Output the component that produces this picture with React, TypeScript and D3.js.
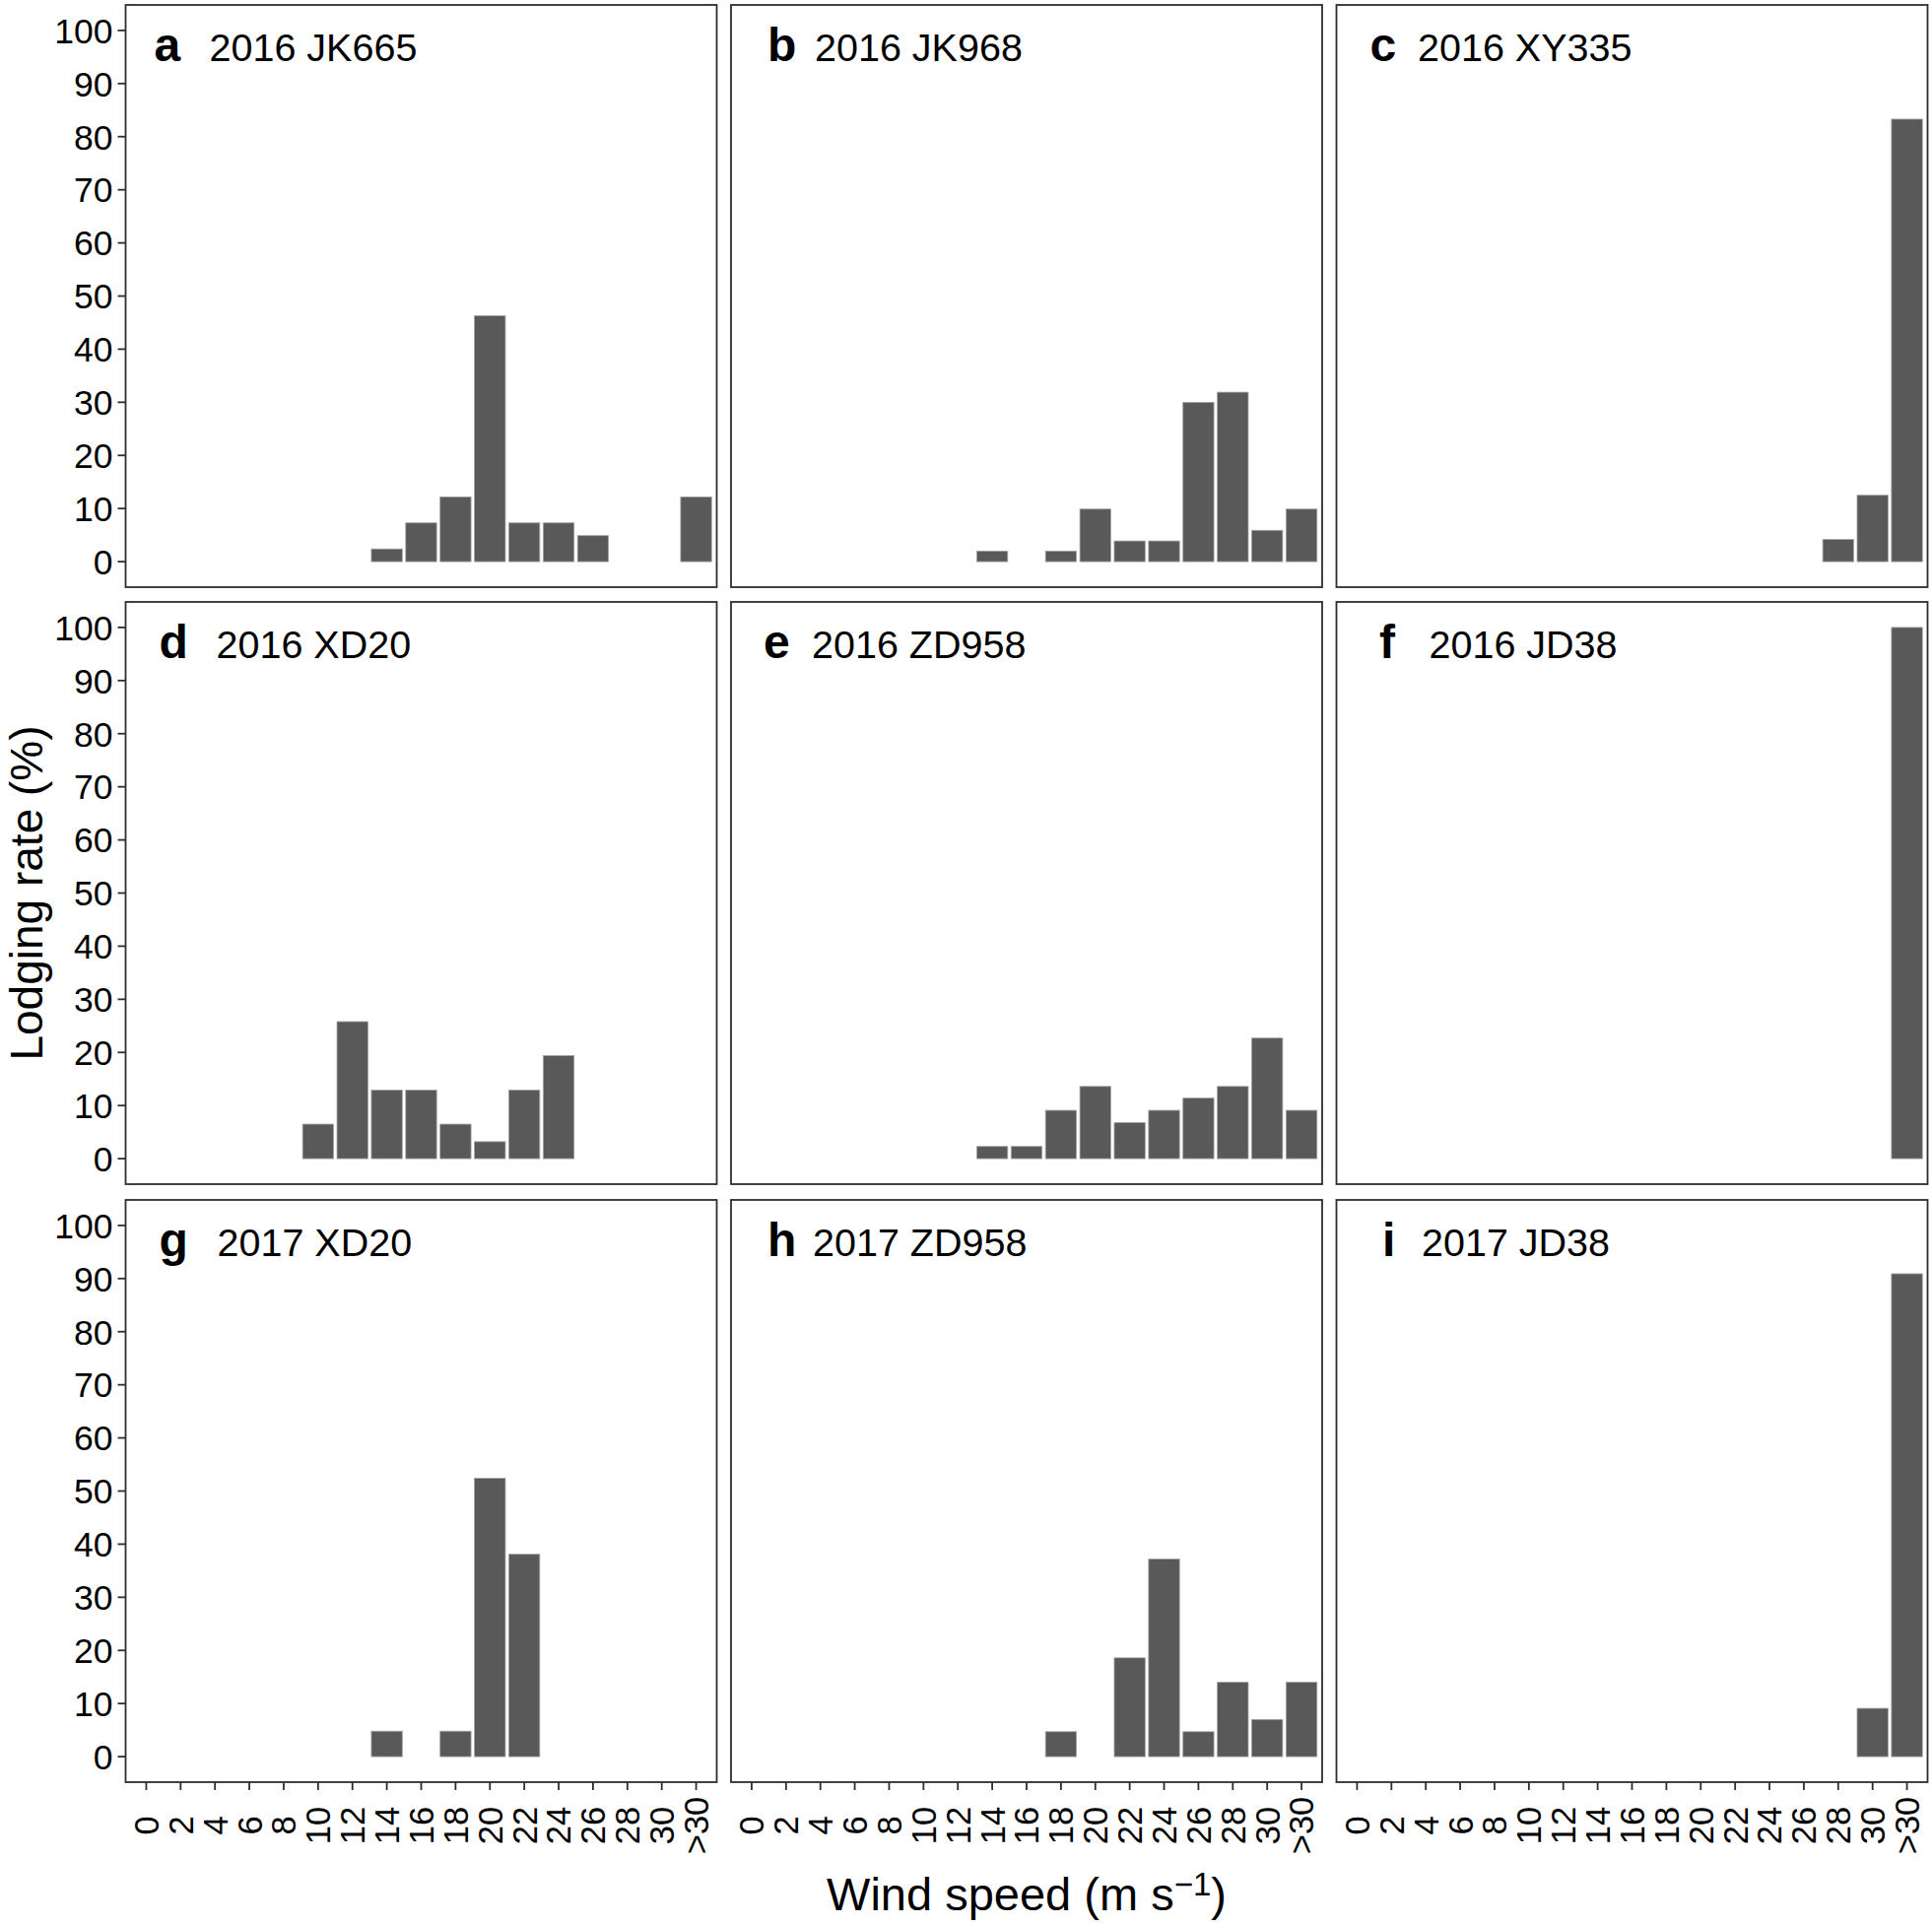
import React from "react";
import * as d3 from "d3";

const categories = ["0","2","4","6","8","10","12","14","16","18","20","22","24","26","28","30",">30"];
const yTicks = [0, 10, 20, 30, 40, 50, 60, 70, 80, 90, 100];

const panelLetters = ["a","b","c","d","e","f","g","h","i"];
const panelTitles = ["2016 JK665","2016 JK968","2016 XY335","2016 XD20","2016 ZD958","2016 JD38","2017 XD20","2017 ZD958","2017 JD38"];

const valuesA = [0,0,0,0,0,0,0,2.4,7.3,12.2,46.3,7.3,7.3,4.9,0,0,12.2];
const valuesB = [0,0,0,0,0,0,0,2.0,0,2.0,9.9,3.9,3.9,30.0,31.9,5.9,9.9];
const valuesC = [0,0,0,0,0,0,0,0,0,0,0,0,0,0,4.2,12.5,83.3];
const valuesD = [0,0,0,0,0,6.5,25.8,12.9,12.9,6.5,3.2,12.9,19.4,0,0,0,0];
const valuesE = [0,0,0,0,0,0,0,2.3,2.3,9.1,13.6,6.8,9.1,11.4,13.6,22.7,9.1];
const valuesF = [0,0,0,0,0,0,0,0,0,0,0,0,0,0,0,0,100];
const valuesG = [0,0,0,0,0,0,0,4.8,0,4.8,52.4,38.1,0,0,0,0,0];
const valuesH = [0,0,0,0,0,0,0,0,0,4.7,0,18.6,37.2,4.7,14.0,7.0,14.0];
const valuesI = [0,0,0,0,0,0,0,0,0,0,0,0,0,0,0,9.1,90.9];

const panelValues = [valuesA, valuesB, valuesC, valuesD, valuesE, valuesF, valuesG, valuesH, valuesI];

// layout (pixels)
const W = 1961;
const H = 1954;
const colLeft = [127.5, 742, 1356.5];
const rowTop = [5, 611, 1218];
const panelW = 600;
const panelH = 591;
const letterOffset = [29, 37, 34, 34, 33, 43.5, 34, 37, 46.5];
const titleOffset = [85, 85, 82.5, 92, 82, 94, 93, 83, 86.5];

const FONT = "'Liberation Sans', Arial, Helvetica, sans-serif";

export default function App() {
  const x = d3.scaleBand<string>().domain(categories).range([0, panelW]).paddingInner(0.1).paddingOuter(0.15);
  const y = d3.scaleLinear().domain([-4.8, 104.8]).range([panelH, 0]);

  return (
    <svg width={W} height={H} style={{ position: "absolute", left: 0, top: 0, background: "#fff" }} fontFamily={FONT}>
      <rect x={0} y={0} width={W} height={H} fill="#fff" />
      {panelValues.map((vals, p) => {
        const col = p % 3;
        const row = Math.floor(p / 3);
        const left = colLeft[col];
        const top = rowTop[row];
        return (
          <g key={p} transform={`translate(${left},${top})`}>
            {vals.map((v, i) =>
              v > 0 ? (
                <rect
                  key={i}
                  x={x(categories[i])!}
                  width={x.bandwidth()}
                  y={y(v)}
                  height={y(0) - y(v)}
                  fill="#595959"
                  stroke="#a6a6a6"
                  strokeWidth={0.8}
                />
              ) : null
            )}
            <rect x={0} y={0} width={panelW} height={panelH} fill="none" stroke="#2e2e2e" strokeWidth={1.8} />
            <text x={letterOffset[p]} y={57} fontSize={48} fontWeight="bold" fill="#000">{panelLetters[p]}</text>
            <text x={titleOffset[p]} y={57} fontSize={39.5} fill="#000">{panelTitles[p]}</text>
            {col === 0 &&
              yTicks.map((t) => (
                <g key={t} transform={`translate(0,${y(t)})`}>
                  <line x1={-8} x2={0} stroke="#2e2e2e" strokeWidth={1.8} />
                  <text x={-13} dy="0.36em" textAnchor="end" fontSize={35.5} fill="#000">{t}</text>
                </g>
              ))}
            {row === 2 &&
              categories.map((c) => {
                const cx = x(c)! + x.bandwidth() / 2;
                return (
                  <g key={c} transform={`translate(${cx},${panelH})`}>
                    <line y1={0} y2={8} stroke="#2e2e2e" strokeWidth={1.8} />
                    <text
                      transform={`translate(0,${1853 - 1218 - panelH}) rotate(-90)`}
                      textAnchor="middle"
                      dy="0.36em"
                      fontSize={34.5}
                      fill="#000"
                    >
                      {c}
                    </text>
                  </g>
                );
              })}
          </g>
        );
      })}
      <text
        transform={`translate(42.5,${rowTop[1] + panelH / 2}) rotate(-90)`}
        textAnchor="middle"
        fontSize={46}
        fill="#000"
      >
        Lodging rate (%)
      </text>
      <text x={colLeft[1] + panelW / 2} y={1939} textAnchor="middle" fontSize={47} fill="#000">
        Wind speed (m s
        <tspan fontSize={33} dy={-15}>−1</tspan>
        <tspan dy={15}>)</tspan>
      </text>
    </svg>
  );
}
